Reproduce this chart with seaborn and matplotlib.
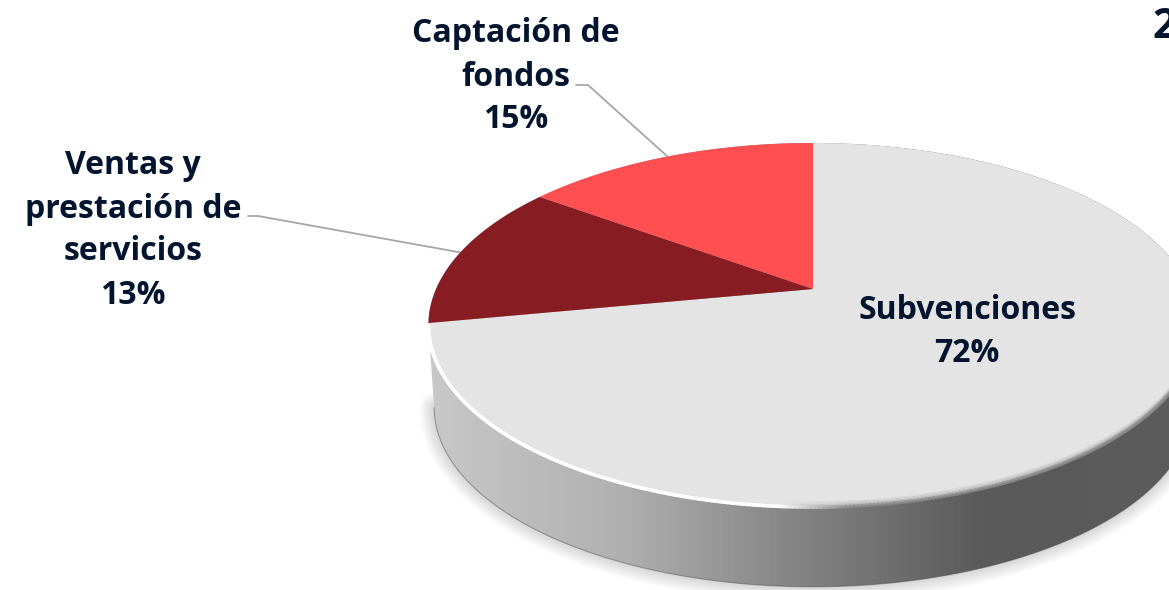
import numpy as np
import matplotlib
matplotlib.use("Agg")
import matplotlib.pyplot as plt
import seaborn as sns
from matplotlib.collections import LineCollection
from matplotlib.colors import LinearSegmentedColormap
from matplotlib.patches import Polygon
from matplotlib.path import Path
from matplotlib.transforms import Affine2D, Transform

# data
categories = ["Subvenciones", "Ventas y\nprestación de\nservicios", "Captación de\nfondos"]
shares = [72, 13, 15]
slice_colors = ["#e4e4e4", "#871c22", "#ff4f51"]
label_centers = [(967, 332), (133, 230.5), (516, 77)]
leader_elbows = [None, [(248, 216), (258, 216)], [(576, 85), (588, 85)]]
cropped_title = "2"

TEXT_COLOR = "#03142f"
APEX = (813, 289)


def tilt(xy, scale=1.0, drop=0.0):
    # perspective view of the unit circle, apex stays on APEX
    x, y = xy[:, 0], xy[:, 1]
    d = 1 + 0.198 * y
    return np.column_stack([APEX[0] + scale * 377 * x / d,
                            APEX[1] - scale * 174.9 * y / d + drop])


class TiltTransform(Transform):
    input_dims = 2
    output_dims = 2

    def transform_non_affine(self, values):
        return tilt(np.asarray(values))

    def transform_path_non_affine(self, path):
        big = Affine2D().scale(3000).transform_path(path)
        pts = big.to_polygons(closed_only=False)[0] / 3000
        return Path(tilt(pts))


sns.set_theme(style="white")
plt.rcParams["font.family"] = ["Open Sans", "DejaVu Sans"]

fig = plt.figure(figsize=(11.69, 5.9), dpi=100)
ax = fig.add_axes([0, 0, 1, 1])

palette = sns.color_palette(slice_colors)
wedges, _ = ax.pie(shares, colors=palette, startangle=90, counterclock=False,
                   wedgeprops={"linewidth": 0, "zorder": 5})
ax.set_aspect("auto")
ax.set_xlim(0, 1169)
ax.set_ylim(590, 0)
ax.axis("off")
for w in wedges:
    w.set_transform(TiltTransform() + ax.transData)

# the outlines of the disc, top face and underside
t = np.linspace(0, 2 * np.pi, 721)
circle = np.column_stack([np.cos(t), np.sin(t)])
top = tilt(circle)
bottom = tilt(circle, 0.985, 83)
il, ir = top[:, 0].argmin(), top[:, 0].argmax()
upper = np.vstack([top[il::-1], top[:ir:-1]])
lower_idx = list(range(il, ir + 1))
side = np.vstack([upper, bottom[lower_idx][::-1]])

# soft shadow behind the side
for lw in range(30, 0, -3):
    ax.add_patch(Polygon(bottom[lower_idx], closed=False, fill=False, ec="black",
                         lw=lw * 0.72, alpha=0.016, zorder=1, capstyle="round",
                         joinstyle="round"))

# rim with a horizontal shading
rim_cmap = LinearSegmentedColormap.from_list("rim", [
    (0.0, "#c8c8c8"), (0.25, "#b0b0b0"), (0.47, "#858585"),
    (0.72, "#5a5a5a"), (1.0, "#5c5c5c")])
im = ax.imshow(np.linspace(0, 1, 400)[None, :], cmap=rim_cmap, vmin=0, vmax=1,
               extent=(428, 1200, 590, 140), aspect="auto", zorder=2)
rim_patch = Polygon(side, closed=True, transform=ax.transData, fc="none", ec="none")
ax.add_patch(rim_patch)
im.set_clip_path(rim_patch)
ax.set_xlim(0, 1169)
ax.set_ylim(590, 0)

# thin dark edge at the bottom of the rim
ax.plot(bottom[lower_idx, 0], bottom[lower_idx, 1], color="#4a4a4a", lw=0.8, alpha=0.45, zorder=3)

# white bevel on the left, fading into a grey blur on the right
rim = top[il:ir + 1]
segs = np.stack([rim[:-1], rim[1:]], axis=1)
mid_x = segs[:, :, 0].mean(axis=1)
ramp = np.clip((mid_x - 780) / 70, 0, 1)
col = np.zeros((len(segs), 4))
col[:, :3] = (1 - ramp)[:, None] * 1.0 + ramp[:, None] * 0.55
col[:, 3] = 1 - 0.35 * ramp
ax.add_collection(LineCollection(segs, colors=col, linewidths=2.6, zorder=6,
                                 capstyle="round"))
for off, a in [(-2.0, 0.4), (-3.5, 0.25), (-5.0, 0.12)]:
    ax.add_collection(LineCollection(segs + np.array([0, off]),
                                     colors=np.column_stack([np.full((len(segs), 3), 0.6),
                                                             a * ramp]),
                                     linewidths=1.5, zorder=6))

# labels and leader lines
total = sum(shares)
cum = 0
for name, share, center, elbow in zip(categories, shares, label_centers, leader_elbows):
    mid = (cum + share / 2) / total * 2 * np.pi
    cum += share
    ax.text(center[0], center[1], f"{name}\n{share}%", ha="center", va="center",
            fontsize=23, fontweight="bold", color=TEXT_COLOR, linespacing=1.4, zorder=8)
    if elbow is not None:
        end = tilt(np.array([[np.sin(mid), np.cos(mid)]]))[0]
        line = np.array(elbow + [tuple(end)])
        ax.plot(line[:, 0], line[:, 1], color="#a6a6a6", lw=1.3, zorder=4)

ax.text(1152, 28, cropped_title, ha="left", va="center", fontsize=30,
        fontweight="bold", color=TEXT_COLOR, zorder=8)

fig.savefig("out.png", dpi=100, facecolor="white")
